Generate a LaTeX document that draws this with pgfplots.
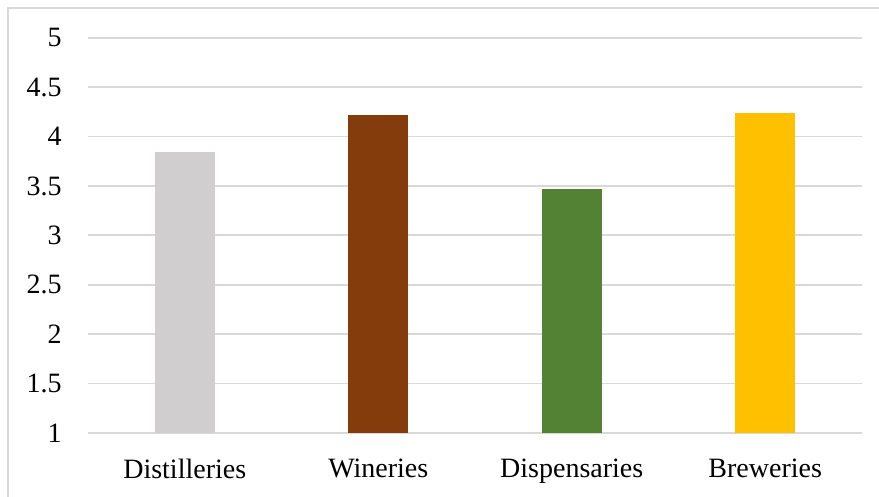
\documentclass[border=0pt]{standalone}
\usepackage{pgfplots}
\pgfplotsset{compat=1.18}
\usepackage{fontspec}
\setmainfont{Liberation Serif}
\definecolor{cgray}{HTML}{D0CECE}
\definecolor{cbrown}{HTML}{843C0C}
\definecolor{cgreen}{HTML}{548235}
\definecolor{cgold}{HTML}{FFC000}
\definecolor{gridc}{HTML}{D9D9D9}
\begin{document}
\begin{tikzpicture}
\useasboundingbox (-44pt,-32pt) rectangle (395.5pt,216.5pt);
\draw[gridc,line width=0.6pt] (-40pt,-32pt) -- (-40pt,212.5pt) -- (395.5pt,212.5pt);
\begin{axis}[
  at={(0,0)}, anchor=south west,
  scale only axis,
  width=387pt, height=197.65pt,
  xmin=-0.5, xmax=3.5,
  ymin=1, ymax=5,
  ytick={1,1.5,2,2.5,3,3.5,4,4.5,5},
  yticklabels={1,1.5,2,2.5,3,3.5,4,4.5,5},
  xtick={0,1,2,3},
  xticklabels={Distilleries,Wineries,Dispensaries,Breweries},
  major tick length=0pt,
  axis line style={draw=none},
  ymajorgrids,
  grid style={gridc,line width=0.9pt},
  tick label style={font=\fontsize{14}{16}\selectfont},
  yticklabel style={anchor=east, inner sep=0pt, xshift=-13pt},
  xticklabel style={anchor=north, inner sep=0pt, yshift=-13pt},
  ybar, bar width=30pt,
  clip=false,
]
\addplot[fill=cgray,draw=none,bar shift=0pt] coordinates {(0,3.84)};
\addplot[fill=cbrown,draw=none,bar shift=0pt] coordinates {(1,4.22)};
\addplot[fill=cgreen,draw=none,bar shift=0pt] coordinates {(2,3.47)};
\addplot[fill=cgold,draw=none,bar shift=0pt] coordinates {(3,4.24)};
\end{axis}
\end{tikzpicture}
\end{document}
